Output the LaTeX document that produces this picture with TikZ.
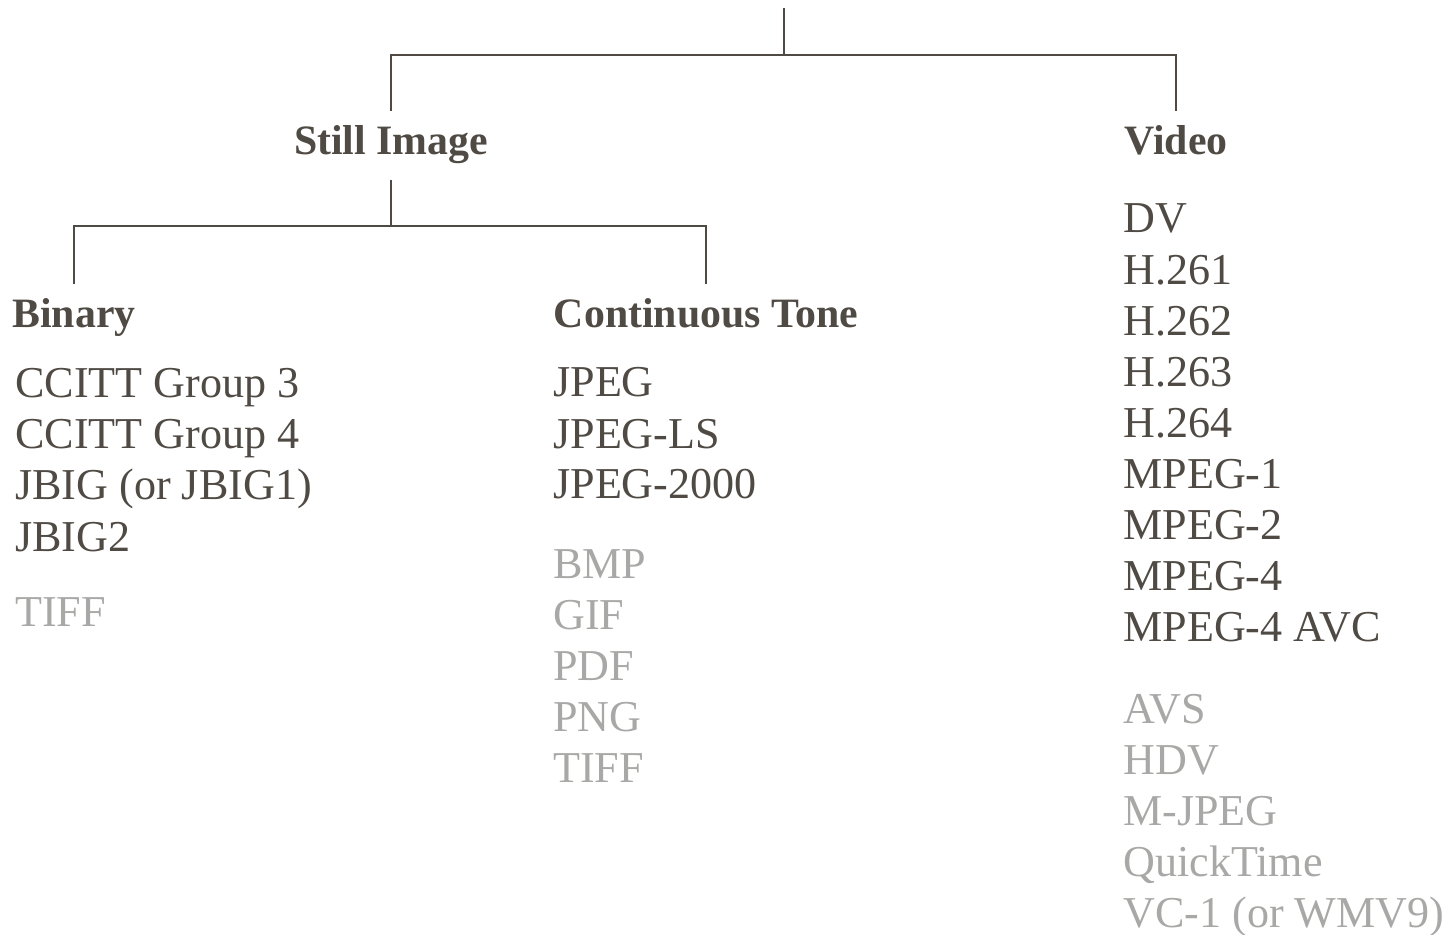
\documentclass[tikz,border=0pt]{standalone}
\usepackage{fontspec}
\setmainfont{Liberation Serif}
\definecolor{tinte}{RGB}{80,74,68}
\definecolor{blass}{RGB}{168,168,166}
\begin{document}
\begin{tikzpicture}[
      x=0.02cm, y=-0.02cm,
      kopf/.style={font=\fontsize{23.8}{28}\selectfont\bfseries, text=tinte, anchor=base,
        inner xsep=0pt, inner ysep=8pt, text height=17pt, text depth=6pt},
      eintrag/.style={font=\fontsize{25.1}{30}\selectfont, text=tinte, anchor=base west, inner sep=0pt},
      nebenbei/.style={eintrag, text=blass},
      ast/.style={draw=tinte, line width=0.8pt}
    ]
      \useasboundingbox (0,0) rectangle (1446,935);
      \node[kopf] (still) at (391,155) {Still Image};
      \node[kopf] (video) at (1176,155) {Video};
      \node[kopf] (binary) at (74,328) {Binary};
      \node[kopf] (ctone) at (706,328) {Continuous Tone};
      \coordinate (root) at (784,8);
      \coordinate (top) at (784,55);
      \draw[ast] (root) -- (top);
      \draw[ast] (still.north) |- (top) -| (video.north);
      \draw[ast] (still.south) -- ++(0,46) coordinate (sbar);
      \draw[ast] (binary.north) |- (sbar) -| (ctone.north);
      \foreach \t [count=\i] in {CCITT Group 3, CCITT Group 4, JBIG (or JBIG1), JBIG2}
        \node[eintrag] (bin-\i) at (15,{398+51*(\i-1)}) {\t};
      \node[nebenbei] (bin-tiff) at (15,626) {TIFF};
      \foreach \t [count=\i] in {JPEG, JPEG-LS, JPEG-2000}
        \node[eintrag] (ct-\i) at (553,{397+51*(\i-1)}) {\t};
      \foreach \t [count=\i] in {BMP, GIF, PDF, PNG, TIFF}
        \node[nebenbei] (ctx-\i) at (553,{578+51*(\i-1)}) {\t};
      \foreach \t [count=\i] in {DV, H.261, H.262, H.263, H.264, MPEG-1, MPEG-2, MPEG-4, MPEG-4 AVC}
        \node[eintrag] (vid-\i) at (1123,{233+51.1*(\i-1)}) {\t};
      \foreach \t [count=\i] in {AVS, HDV, M-JPEG, QuickTime, VC-1 (or WMV9)}
        \node[nebenbei] (vidx-\i) at (1123,{723+51*(\i-1)}) {\t};
    \end{tikzpicture}
\end{document}
